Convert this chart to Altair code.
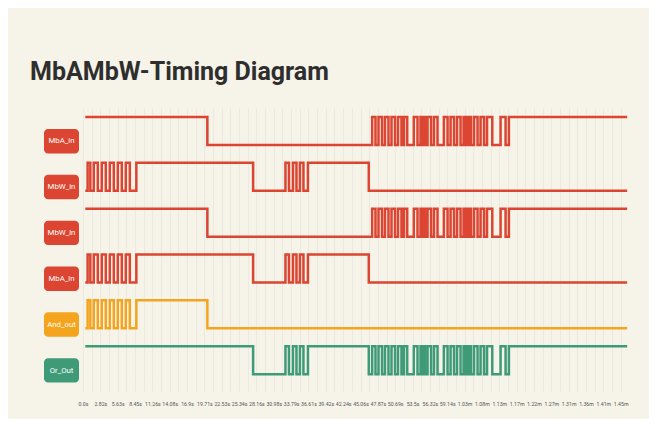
import json
import altair as alt
import pandas as pd

# ---------------- data ----------------
ROW_LABELS = ["MbA_in", "MbW_in", "MbW_in", "MbA_in", "And_out", "Or_Out"]
ROW_COLORS = ["#DB4531", "#DB4531", "#DB4531", "#DB4531", "#F4A51D", "#3F9A78"]

T_START = 0.37   # s, where every trace begins
T_END = 88.35    # s, where every trace ends

# level at T_START, then the times (s) at which the level flips
MBA_IN_START = 1
MBA_IN_EDGES = [20.19,
                46.95, 47.49, 47.98, 48.55, 49.03, 49.60, 50.09, 50.66, 51.15, 51.71,
                52.12, 52.64,
                53.71, 54.31, 54.80, 55.04, 55.29, 55.53, 55.94, 56.51, 56.99, 57.56,
                58.59, 59.19, 59.68, 60.24, 60.73, 61.30, 61.79, 62.03, 62.27, 62.52,
                62.76, 63.00, 63.49, 64.06, 64.55, 65.12, 65.60, 66.45,
                67.80, 68.61, 69.15]

MBW_IN_START = 0
MBW_IN_EDGES = [0.75, 1.19, 1.75, 2.40, 3.05, 3.70, 4.35, 5.00, 5.65, 6.30,
                6.95, 7.60, 8.66, 27.62,
                32.87, 33.44, 34.09, 34.66, 35.22, 35.79, 36.52, 46.40]

# third and fourth traces repeat the first two traces
MBW_IN_2_START = 1
MBW_IN_2_EDGES = list(MBA_IN_EDGES)
MBA_IN_2_START = 0
MBA_IN_2_EDGES = list(MBW_IN_EDGES)

AND_OUT_START = 0
AND_OUT_EDGES = [0.75, 1.19, 1.75, 2.40, 3.05, 3.70, 4.35, 5.00, 5.65, 6.30,
                 6.95, 7.60, 8.66, 20.19]

OR_OUT_START = 1
OR_OUT_EDGES = [27.62, 32.87, 33.44, 34.09, 34.66, 35.22, 35.79, 36.52, 46.40,
                46.95, 47.49, 47.98, 48.55, 49.03, 49.60, 50.09, 50.66, 51.15, 51.71,
                52.12, 52.64,
                53.71, 54.31, 54.80, 55.04, 55.29, 55.53, 55.94, 56.51, 56.99, 57.56,
                58.59, 59.19, 59.68, 60.24, 60.73, 61.30, 61.79, 62.03, 62.27, 62.52,
                62.76, 63.00, 63.49, 64.06, 64.55, 65.12, 65.60, 66.45,
                67.80, 68.61, 69.15]

TICK_STEP = 2.816
TICK_LABELS = ["0.0s", "2.82s", "5.63s", "8.45s", "11.26s", "14.08s", "16.9s",
               "19.71s", "22.53s", "25.34s", "28.16s", "30.98s", "33.79s", "36.61s",
               "39.42s", "42.24s", "45.06s", "47.87s", "50.69s", "53.5s", "56.32s",
               "59.14s", "1.03m", "1.08m", "1.13m", "1.17m", "1.22m", "1.27m",
               "1.31m", "1.36m", "1.41m", "1.45m"]

TRACES = [(MBA_IN_START, MBA_IN_EDGES), (MBW_IN_START, MBW_IN_EDGES),
          (MBW_IN_2_START, MBW_IN_2_EDGES), (MBA_IN_2_START, MBA_IN_2_EDGES),
          (AND_OUT_START, AND_OUT_EDGES), (OR_OUT_START, OR_OUT_EDGES)]

# ---------------- layout ----------------
X_MAX = 88.0
N_ROWS = 6
HIGH_OFF = 0.196   # fraction of a row band below its top for level 1
LOW_OFF = 0.807    # for level 0
FONT = "Roboto"
BG = "#F6F3E9"

rows = []
for r, (start, edges) in enumerate(TRACES):
    pts = [(T_START, start)]
    lvl = start
    for t in edges:
        lvl = 1 - lvl
        pts.append((t, lvl))
    pts.append((T_END, lvl))
    for i, (t, l) in enumerate(pts):
        rows.append({"row": r, "order": i, "t": t,
                     "y": N_ROWS - r - (HIGH_OFF if l else LOW_OFF)})
wave = pd.DataFrame(rows)

labels = pd.DataFrame({
    "row": list(range(N_ROWS)),
    "label": ROW_LABELS,
    "y_top": [N_ROWS - r - 0.458 for r in range(N_ROWS)],
    "y_bot": [N_ROWS - r - 0.99 for r in range(N_ROWS)],
    "y_mid": [N_ROWS - r - 0.728 for r in range(N_ROWS)],
})

grid_vals = [round(i * TICK_STEP / 2, 4) for i in range(int(X_MAX / (TICK_STEP / 2)) + 1)]
label_expr = ("(round(datum.value / %s) %% 2 == 0) ? %s[round(datum.value / %s)] : ''"
              % (TICK_STEP / 2, json.dumps(TICK_LABELS), TICK_STEP))

color = alt.Color("row:O", scale=alt.Scale(domain=list(range(N_ROWS)), range=ROW_COLORS),
                  legend=None)
yscale = alt.Scale(domain=[0, N_ROWS], nice=False, zero=False)

lines = alt.Chart(wave).mark_line(interpolate="step-after", strokeWidth=2.5,
                                  strokeJoin="miter").encode(
    x=alt.X("t:Q", scale=alt.Scale(domain=[0, X_MAX], nice=False, zero=False),
            axis=alt.Axis(values=grid_vals, labelExpr=label_expr, grid=True,
                          gridColor="#EBE9E1", gridWidth=1, domain=False,
                          tickSize=9, tickColor="#EBE9E1", labelFontSize=5.2,
                          labelFont=FONT, labelColor="#555555", labelPadding=9,
                          labelOverlap=False, labelFlush=False, title=None)),
    y=alt.Y("y:Q", scale=yscale,
            axis=alt.Axis(values=list(range(N_ROWS + 1)), grid=True,
                          gridColor="#E2E1DC", gridWidth=1, labels=False,
                          ticks=False, domain=False, title=None)),
    color=color,
    detail="row:N",
    order="order:Q",
)

boxes = alt.Chart(labels).mark_rect(cornerRadius=4).encode(
    x=alt.value(-39), x2=alt.value(-4),
    y=alt.Y("y_top:Q", scale=yscale, axis=None),
    y2="y_bot:Q",
    color=color,
)

texts = alt.Chart(labels).mark_text(font=FONT, fontSize=7.8, color="white").encode(
    x=alt.value(-21.5),
    y=alt.Y("y_mid:Q", scale=yscale, axis=None),
    text="label:N",
)

chart = alt.layer(boxes, lines, texts).properties(
    width=542, height=275,
    autosize=alt.AutoSizeParams(type="none"),
    padding={"left": 75, "top": 100, "right": 24, "bottom": 36},
    background=BG,
    title=alt.TitleParams("MbAMbW-Timing Diagram", anchor="start", frame="group",
                          dx=-53, offset=23, font=FONT, fontSize=25,
                          fontWeight="bold", color="#2E2E2E"),
).configure_view(stroke=None)

chart.save("out.html", embed_options={"renderer": "svg", "actions": False})
